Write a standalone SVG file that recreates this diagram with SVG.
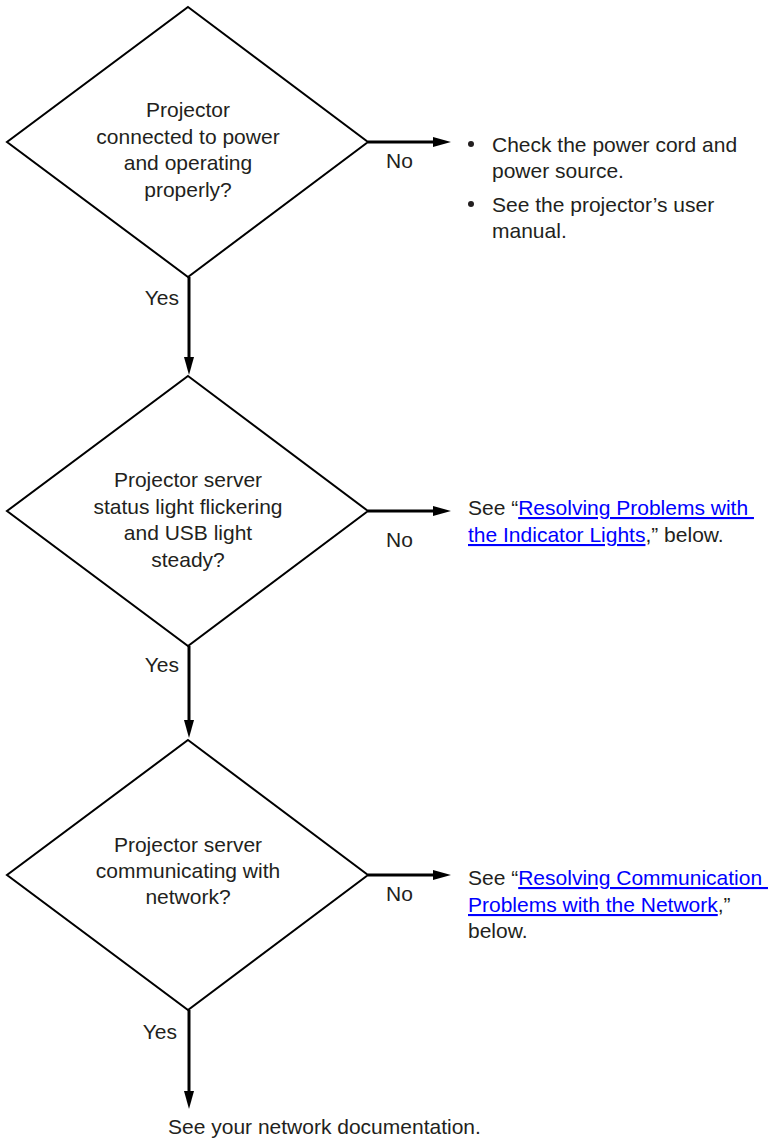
<svg xmlns="http://www.w3.org/2000/svg" width="775" height="1146" viewBox="0 0 775 1146">
  <style>
    text { font-family: "Liberation Sans", Arial, sans-serif; font-size: 21px; fill: #231f20; white-space: pre; }
    .c { text-anchor: middle; }
    .e { text-anchor: end; }
    .lnk { fill: #0000ff; text-decoration: underline; }
    .dia { fill: #ffffff; stroke: #000000; stroke-width: 2; }
    .con { stroke: #000000; stroke-width: 3; fill: none; marker-end: url(#arr); }
  </style>
  <defs>
    <marker id="arr" markerUnits="userSpaceOnUse" markerWidth="18" markerHeight="10" refX="6" refY="5" orient="auto">
      <path d="M0,0 L18,5 L0,10 z" fill="#000000"/>
    </marker>
  </defs>
  <rect width="775" height="1146" fill="#ffffff"/>

  <g id="connectors">
    <line class="con" x1="189" y1="277" x2="189" y2="363"/>
    <line class="con" x1="189" y1="646" x2="189" y2="726"/>
    <line class="con" x1="189" y1="1010" x2="189" y2="1097"/>
    <line class="con" x1="368" y1="142" x2="439" y2="142"/>
    <line class="con" x1="368" y1="511" x2="439" y2="511"/>
    <line class="con" x1="368" y1="875" x2="439" y2="875"/>
    <text class="e" x="179" y="305">Yes</text>
    <text class="e" x="179" y="672">Yes</text>
    <text class="e" x="177" y="1039">Yes</text>
    <text x="386" y="168">No</text>
    <text x="386" y="547">No</text>
    <text x="386" y="901">No</text>
  </g>

  <g id="d1">
    <polygon class="dia" points="188,7 368,142 188,277 7,142"/>
    <text class="c" x="188" y="117">Projector</text>
    <text class="c" x="188" y="143.5">connected to power</text>
    <text class="c" x="188" y="170">and operating</text>
    <text class="c" x="188" y="196.5">properly?</text>
  </g>

  <g id="d2">
    <polygon class="dia" points="188,376 368,511 188,646 7,511"/>
    <text class="c" x="188" y="487">Projector server</text>
    <text class="c" x="188" y="513.5">status light flickering</text>
    <text class="c" x="188" y="540">and USB light</text>
    <text class="c" x="188" y="566.5">steady?</text>
  </g>

  <g id="d3">
    <polygon class="dia" points="188,740 368,875 188,1010 7,875"/>
    <text class="c" x="188" y="852">Projector server</text>
    <text class="c" x="188" y="878">communicating with</text>
    <text class="c" x="188" y="904">network?</text>
  </g>

  <g id="r1">
    <circle cx="471" cy="144" r="3" fill="#231f20"/>
    <text x="492" y="152">Check the power cord and</text>
    <text x="492" y="178">power source.</text>
    <circle cx="471" cy="204" r="3" fill="#231f20"/>
    <text x="492" y="212">See the projector’s user</text>
    <text x="492" y="238">manual.</text>
  </g>

  <g id="r2">
    <text x="468" y="515">See “<tspan class="lnk">Resolving Problems with </tspan></text>
    <text x="468" y="542"><tspan class="lnk">the Indicator Lights</tspan>,” below.</text>
  </g>

  <g id="r3">
    <text x="468" y="885">See “<tspan class="lnk">Resolving Communication </tspan></text>
    <text x="468" y="912"><tspan class="lnk">Problems with the Network</tspan>,”</text>
    <text x="468" y="938">below.</text>
  </g>

  <g id="end">
    <text x="168" y="1134">See your network documentation.</text>
  </g>
</svg>
